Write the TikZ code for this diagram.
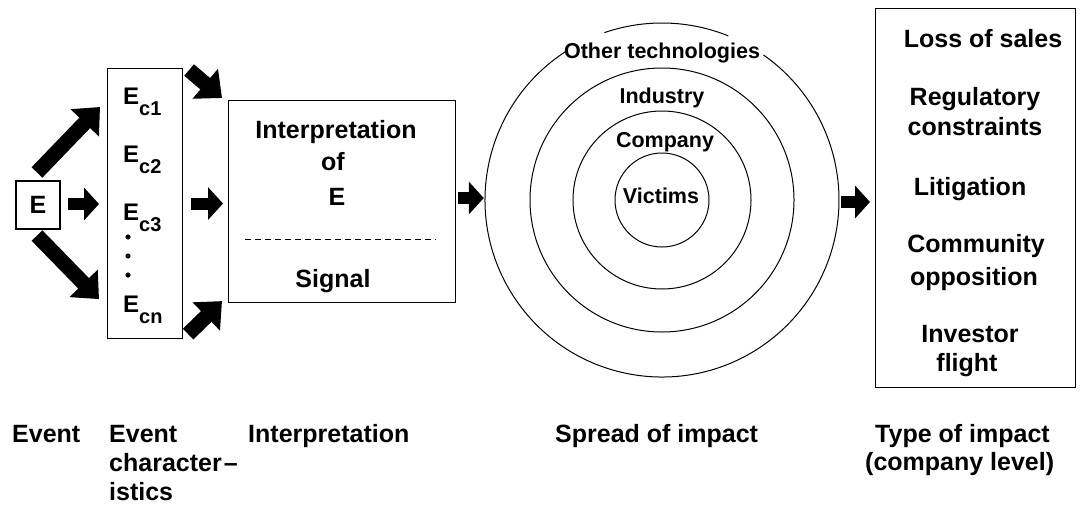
\documentclass[tikz,border=0pt]{standalone}
\usepackage{fontspec}
\setmainfont{Liberation Sans}
\usetikzlibrary{arrows.meta,calc}
\newcommand\fsz[1]{\fontsize{#1}{#1}\selectfont}
\newcommand\Esub[1]{E\raisebox{-11.5pt}{\fsz{20}#1}}
\begin{document}
\begin{tikzpicture}[x=1pt,y=1pt,
  every node/.style={font=\bfseries\fsz{25}},
  box/.style={draw,line width=1.1pt,inner sep=0pt},
  ring/.style={draw,circle,line width=1pt,inner sep=0pt},
  lbl/.style={inner sep=0pt,anchor=base},
  lblw/.style={inner sep=0pt,anchor=base west},
  clbl/.style={inner sep=0pt,anchor=base,font=\bfseries\fsz{21.5}},
  blk/.style={line width=12pt,-{Triangle[length=15pt,width=32pt]}},
  blkd/.style={line width=15pt,-{Triangle[length=22pt,width=38pt]}}]
\useasboundingbox (0,0) rectangle (1083,-506);

% Event box
\node[box,minimum width=44pt,minimum height=48pt] (E) at (38,-205) {E};

% Event characteristics box
\node[box,minimum width=75pt,minimum height=270pt,anchor=north west] (Ec) at (107,-68) {};
\node[lblw,font=\bfseries\fsz{24}] (Ec1) at (123,-104) {\Esub{c1}};
\node[lblw,font=\bfseries\fsz{24}] (Ec2) at (123,-162) {\Esub{c2}};
\node[lblw,font=\bfseries\fsz{24}] (Ec3) at (123,-220) {\Esub{c3}};
\node[lblw,font=\bfseries\fsz{24}] (Ecn) at (123,-312) {\Esub{cn}};
\fill (128,-237) circle (2.6pt);
\fill (128,-256) circle (2.6pt);
\fill (128,-275) circle (2.6pt);

% Interpretation box
\node[box,minimum width=227pt,minimum height=202pt,anchor=north west] (Int) at (228,-100) {};
\node[lbl] (I1) at (336,-138) {Interpretation};
\node[lbl] (I2) at (333,-170) {of};
\node[lbl] (I3) at (337,-205) {E};
\node[lbl] (I4) at (333,-287) {Signal};
\draw[line width=0.9pt,dash pattern=on 6pt off 4pt] ($(Int.north west)+(17,-139)$) -- ($(Int.north east)+(-20,-139)$);

% Circles
\coordinate (O) at (662,-200);
\node[ring,minimum size=94pt] (Cv) at (O) {};
\node[ring,minimum size=178pt] (Cc) at (O) {};
\node[ring,minimum size=264pt] (Ci) at (O) {};
\node[circle,minimum size=354pt,inner sep=0pt] (Cout) at (O) {};
\draw[line width=1pt] ($(O)+(68:177)$) arc[start angle=68,end angle=109,radius=177pt];
\draw[line width=1pt] ($(O)+(123:177)$) arc[start angle=123,end angle=415,radius=177pt];
\node[clbl] (Lo) at (662,-58) {Other technologies};
\node[clbl] (Li) at (662,-103) {Industry};
\node[clbl] (Lc) at (665,-147) {Company};
\node[clbl] (Lv) at (661,-203) {Victims};

% Type of impact box
\node[box,minimum width=200pt,minimum height=379pt,anchor=north west] (R) at (875,-8) {};
\node[lbl] (R1) at (983,-47) {Loss of sales};
\node[lbl] (R2) at (975,-105) {Regulatory};
\node[lbl] (R3) at (975,-135) {constraints};
\node[lbl] (R4) at (970,-195) {Litigation};
\node[lbl] (R5) at (976,-252) {Community};
\node[lbl] (R6) at (974,-285) {opposition};
\node[lbl] (R7) at (970,-342) {Investor};
\node[lbl] (R8) at (967,-371) {flight};

% Arrows
\draw[blkd] ($(E.north)+(-1,8)$) -- ($(Ec.north west)+(-7,-39)$);
\draw[blk] ($(E.east)+(7,1)$) -- ($(Ec.west|-E.east)+(-8,1)$);
\draw[blkd] ($(E.south)+(-1,-6)$) -- ($(Ec.south west)+(-8,40)$);
\draw[blkd] ($(Ec.north east)+(6,-2)$) -- ($(Int.north west)+(-6,2)$);
\draw[blk] ($(Ec.east)+(8,0)$) -- ($(Int.west|-Ec.east)+(-5,0)$);
\draw[blkd] ($(Ec.south east)+(5,5)$) -- ($(Int.south west)+(-6,2)$);
\draw[blk] ($(Int.east|-Cout.center)+(2,2)$) -- ($(Cout.west)+(-1,2)$);
\draw[blk] ($(Cout.east)+(2,-2)$) -- ($(R.west|-Cout.east)+(-5,-2)$);

% Bottom captions
\node[lblw] (T1) at (12,-442) {Event};
\node[lblw] (T2a) at (109,-442) {Event};
\node[lblw] (T2b) at (109,-471) {character\kern2pt–};
\node[lblw] (T2c) at (109,-500) {istics};
\node[lblw] (T3) at (248,-442) {Interpretation};
\node[lblw] (T4) at (555,-442) {Spread of impact};
\node[lblw] (T5a) at (875,-442) {Type of impact};
\node[lblw] (T5b) at (865,-470) {(company level)};
\end{tikzpicture}
\end{document}
